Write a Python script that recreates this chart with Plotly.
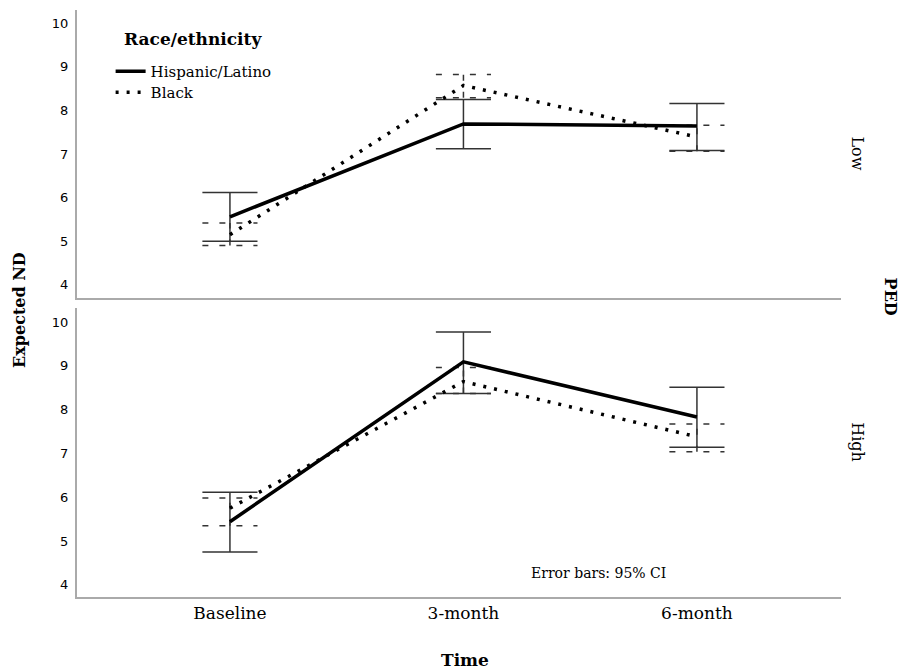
import plotly.graph_objects as go
from plotly.subplots import make_subplots

# ---- data ----
time_labels = ["Baseline", "3-month", "6-month"]
x_pos = [0, 1, 2]

# PED = Low (top panel)
low_hisp_mean = [5.56, 7.69, 7.64]
low_hisp_lo = [5.00, 7.12, 7.08]
low_hisp_hi = [6.12, 8.25, 8.16]
low_black_mean = [5.15, 8.57, 7.39]
low_black_lo = [4.90, 8.29, 7.06]
low_black_hi = [5.42, 8.82, 7.66]

# PED = High (bottom panel)
high_hisp_mean = [5.44, 9.09, 7.83]
high_hisp_lo = [4.75, 8.37, 7.14]
high_hisp_hi = [6.11, 9.77, 8.51]
high_black_mean = [5.75, 8.64, 7.38]
high_black_lo = [5.35, 8.37, 7.04]
high_black_hi = [5.98, 8.96, 7.67]

y_ticks = [4, 5, 6, 7, 8, 9, 10]

# ---- styles ----
SERIF = "DejaVu Serif"
SANS = "DejaVu Sans"
CAP = 0.118
AXIS_COLOR = "#aaaaaa"


def errbar_xy(xs, lo, hi):
    ex, ey = [], []
    for x, l, h in zip(xs, lo, hi):
        ex += [x, x, None, x - CAP, x + CAP, None, x - CAP, x + CAP, None]
        ey += [l, h, None, h, h, None, l, l, None]
    return ex, ey


fig = make_subplots(rows=2, cols=1, shared_xaxes=True, vertical_spacing=0.017)

panels = [
    (1, low_hisp_mean, low_hisp_lo, low_hisp_hi, low_black_mean, low_black_lo, low_black_hi),
    (2, high_hisp_mean, high_hisp_lo, high_hisp_hi, high_black_mean, high_black_lo, high_black_hi),
]

for row, hm, hl, hh, bm, bl, bh in panels:
    ex, ey = errbar_xy(x_pos, hl, hh)
    fig.add_trace(go.Scatter(x=ex, y=ey, mode="lines", showlegend=False, hoverinfo="skip",
                             line=dict(color="#333333", width=1.5)), row=row, col=1)
    ex, ey = errbar_xy(x_pos, bl, bh)
    fig.add_trace(go.Scatter(x=ex, y=ey, mode="lines", showlegend=False, hoverinfo="skip",
                             line=dict(color="#333333", width=1.5, dash="6px,11px")), row=row, col=1)
    fig.add_trace(go.Scatter(x=x_pos, y=hm, mode="lines", name="Hispanic/Latino",
                             showlegend=(row == 1), legend="legend",
                             line=dict(color="black", width=3.5)), row=row, col=1)
    fig.add_trace(go.Scatter(x=x_pos, y=bm, mode="lines", name="Black",
                             showlegend=(row == 1), legend="legend2",
                             line=dict(color="black", width=3.5, dash="3px,8px")), row=row, col=1)

legend_style = dict(
    x=0.044, xanchor="left", yanchor="top",
    bgcolor="rgba(0,0,0,0)",
    font=dict(family=SERIF, size=15, color="black"),
    tracegroupgap=0, itemwidth=30,
)

fig.update_layout(
    width=902, height=663,
    margin=dict(l=69, r=69, t=2, b=74, autoexpand=False),
    plot_bgcolor="white", paper_bgcolor="white",
    showlegend=True,
    legend=dict(y=0.9233, **legend_style),
    legend2=dict(y=0.8876, **legend_style),
)

fig.update_layout(
    yaxis=dict(domain=[0.5094, 1.0]),
    yaxis2=dict(domain=[0.0, 0.4923]),
)

for r, rng in [(1, [3.7, 10.3]), (2, [3.72, 10.32])]:
    fig.update_yaxes(row=r, col=1, range=rng, tickvals=y_ticks, ticks="", showgrid=False,
                     zeroline=False, showline=True, linecolor=AXIS_COLOR, linewidth=2,
                     automargin=False,
                     tickfont=dict(family=SANS, size=13, color="black"), ticklabelstandoff=4)
for r in (1, 2):
    fig.update_xaxes(row=r, col=1, range=[-0.655, 2.617], tickvals=x_pos, ticktext=time_labels,
                     ticks="", showgrid=False, zeroline=False, showline=True,
                     linecolor=AXIS_COLOR, linewidth=2, automargin=False,
                     tickfont=dict(family=SERIF, size=17, color="black"))

annots = [
    dict(text="<b>Race/ethnicity</b>", x=0.152, y=0.9506, xref="paper", yref="paper",
         font=dict(family=SERIF, size=17)),
    dict(text="<b>Expected ND</b>", x=-0.0746, y=0.489, xref="paper", yref="paper",
         textangle=-90, font=dict(family=SERIF, size=16)),
    dict(text="<b>Time</b>", x=0.508, y=-0.107, xref="paper", yref="paper",
         font=dict(family=SERIF, size=17)),
    dict(text="<b>PED</b>", x=1.066, y=0.511, xref="paper", yref="paper",
         textangle=90, font=dict(family=SERIF, size=16)),
    dict(text="Low", x=1.022, y=0.756, xref="paper", yref="paper",
         textangle=90, font=dict(family=SERIF, size=16)),
    dict(text="High", x=1.022, y=0.264, xref="paper", yref="paper",
         textangle=90, font=dict(family=SERIF, size=16)),
    dict(text="Error bars: 95% CI", x=0.683, y=0.041, xref="paper", yref="paper",
         font=dict(family=SERIF, size=14)),
]
for a in annots:
    a.setdefault("showarrow", False)
    a["xanchor"] = "center"
    a["yanchor"] = "middle"
    a["font"]["color"] = "black"
    fig.add_annotation(**a)

fig.write_html("out.html")
